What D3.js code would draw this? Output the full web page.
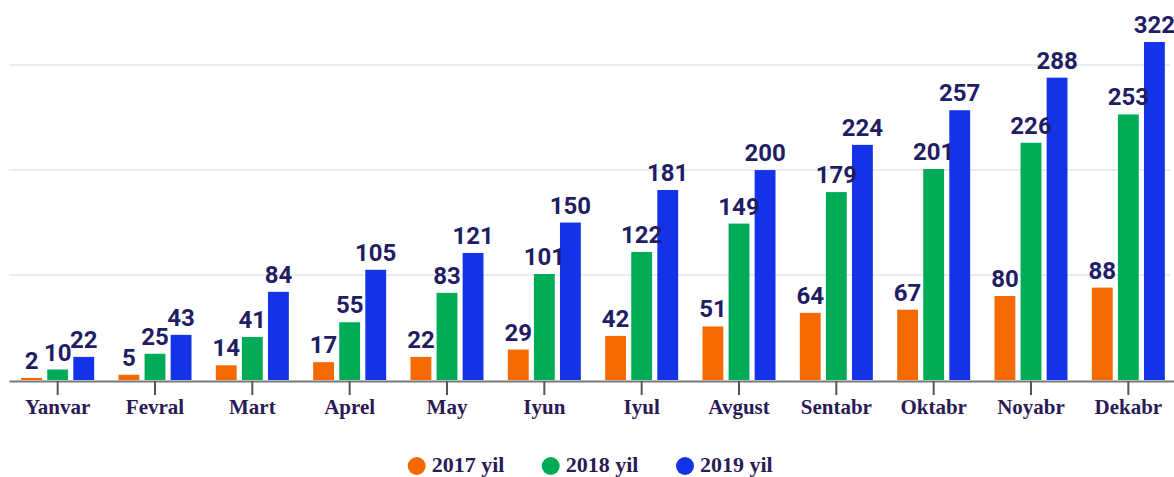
<!DOCTYPE html>
<html>
<head>
<meta charset="utf-8">
<script src="https://cdnjs.cloudflare.com/ajax/libs/d3/7.8.5/d3.min.js"></script>
<style>
  body { margin: 0; background: #fff; }
  svg { display: block; }
</style>
</head>
<body>
<div id="chart"></div>
<script>
// months and yearly series
var months = ["Yanvar", "Fevral", "Mart", "Aprel", "May", "Iyun", "Iyul", "Avgust", "Sentabr", "Oktabr", "Noyabr", "Dekabr"];
var years = ["2017 yil", "2018 yil", "2019 yil"];
var values2017 = [2, 5, 14, 17, 22, 29, 42, 51, 64, 67, 80, 88];
var values2018 = [10, 25, 41, 55, 83, 101, 122, 149, 179, 201, 226, 253];
var values2019 = [22, 43, 84, 105, 121, 150, 181, 200, 224, 257, 288, 322];
var gridValues = [100, 200, 300];
var colors = ["#f56a00", "#00ab57", "#1533e6"];

function main() {
    var width = 1174, height = 477;
    var series = [values2017, values2018, values2019];

    var svg = d3.select("#chart")
    .append("svg")
    .attr("width", width)
    .attr("height", height);

    var x0 = d3.scaleBand()
    .domain(months)
    .range([9, 1177])
    .paddingInner(0.25)
    .paddingOuter(0.125);

    var x1 = d3.scaleBand()
    .domain(d3.range(years.length))
    .range([0, x0.bandwidth()])
    .paddingInner(0.2);

    var y = d3.scaleLinear()
    .domain([0, d3.max(values2019)])
    .range([380, 42]);

    // light horizontal grid
    svg.selectAll(".grid")
    .data(gridValues)
    .enter().append("line")
    .attr("class", "grid")
    .attr("x1", 9)
    .attr("x2", 1170)
    .attr("y1", d => y(d))
    .attr("y2", d => y(d))
    .attr("stroke", "#ececec")
    .attr("stroke-width", 2);

    var groups = svg.selectAll(".month")
    .data(months)
    .enter().append("g")
    .attr("class", "month")
    .attr("transform", d => "translate(" + x0(d) + ",0)");

    groups.selectAll("rect")
    .data((d, i) => series.map((s, k) => ({ k: k, v: s[i] })))
    .enter().append("rect")
    .attr("x", d => x1(d.k))
    .attr("width", x1.bandwidth())
    .attr("y", d => y(d.v))
    .attr("height", d => y(0) - y(d.v))
    .attr("fill", d => colors[d.k]);

    groups.selectAll("text.val")
    .data((d, i) => series.map((s, k) => ({ k: k, v: s[i] })))
    .enter().append("text")
    .attr("class", "val")
    .attr("x", d => x1(d.k) + x1.bandwidth() / 2)
    .attr("y", d => y(d.v) - 9)
    .attr("text-anchor", "middle")
    .attr("font-family", "Roboto")
    .attr("font-weight", "bold")
    .attr("font-size", 24)
    .attr("fill", "#1f1d63")
    .text(d => d.v);

    // x axis
    var axis = svg.append("g")
    .attr("transform", "translate(0,381)")
    .call(d3.axisBottom(x0).tickSize(14).tickSizeOuter(0).tickPadding(4));
    axis.select(".domain").attr("stroke", "#777").attr("stroke-width", 2);
    axis.selectAll(".tick line").attr("stroke", "#555").attr("stroke-width", 2);
    axis.selectAll(".tick text")
    .attr("font-family", "Liberation Serif")
    .attr("font-weight", "bold")
    .attr("font-size", 21)
    .attr("fill", "#2a1a55");

    // legend
    var legendX = [416.7, 550.7, 685];
    var legend = svg.selectAll(".legend")
    .data(years)
    .enter().append("g")
    .attr("class", "legend")
    .attr("transform", (d, i) => "translate(" + legendX[i] + ",466)");
    legend.append("circle")
    .attr("r", 9)
    .attr("fill", (d, i) => colors[i]);
    legend.append("text")
    .attr("x", 15)
    .attr("y", 6)
    .attr("font-family", "Liberation Serif")
    .attr("font-weight", "bold")
    .attr("font-size", 22)
    .attr("fill", "#2a1a55")
    .text(d => d);
}

main();
</script>
</body>
</html>
